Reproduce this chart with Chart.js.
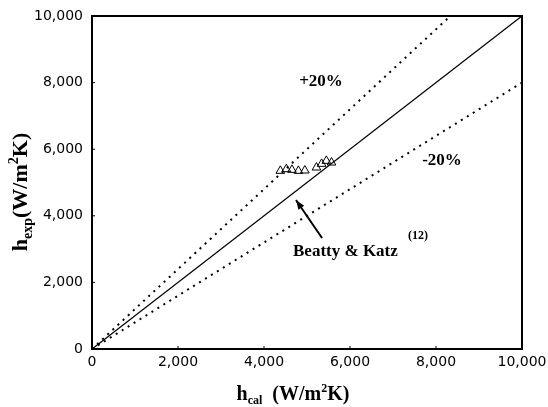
<!DOCTYPE html>
<html>
<head>
<meta charset="utf-8">
<script src="https://cdn.jsdelivr.net/npm/chart.js@4/dist/chart.umd.min.js"></script>
<style>
  html, body { margin: 0; padding: 0; background: #fff; }
  #wrap { width: 548px; height: 407px; }
</style>
</head>
<body>
<div id="wrap"><canvas id="chart"></canvas></div>
<script>
// Measured points: calculated vs experimental heat transfer coefficient (W/m2K)
const hCal = [4380, 4520, 4650, 4800, 4950, 5220, 5340, 5450, 5570];
const hExp = [5350, 5400, 5380, 5350, 5360, 5450, 5560, 5650, 5600];

// Reference lines (end points)
const perfectX = [0, 10000];
const perfectY = [0, 10000];
const plusX = [0, 8333];
const plusY = [0, 10000];
const minusX = [0, 10000];
const minusY = [0, 8000];

// Axis ticks
const tickValues = [0, 2000, 4000, 6000, 8000, 10000];

const toPoints = (xs, ys) => xs.map((x, i) => ({ x: x, y: ys[i] }));

// Draw text made of pieces: [text, size, dy]
function drawRich(ctx, parts, x, y, family) {
  let cx = x;
  parts.forEach((p) => {
    ctx.font = "bold " + p[1] + "px " + family;
    ctx.fillText(p[0], cx, y + p[2]);
    cx += ctx.measureText(p[0]).width;
  });
}
function richWidth(ctx, parts, family) {
  let w = 0;
  parts.forEach((p) => {
    ctx.font = "bold " + p[1] + "px " + family;
    w += ctx.measureText(p[0]).width;
  });
  return w;
}

const serif = "'Liberation Serif', 'Times New Roman', serif";

const decorPlugin = {
  id: "decor",
  afterDraw(chart) {
    const ctx = chart.ctx;
    const a = chart.chartArea;
    const xs = chart.scales.x;
    const ys = chart.scales.y;
    ctx.save();

    // frame
    ctx.strokeStyle = "#000";
    ctx.lineWidth = 2;
    ctx.strokeRect(a.left, a.top, a.right - a.left, a.bottom - a.top);

    // inner tick marks
    ctx.lineWidth = 1;
    tickValues.forEach((v) => {
      const px = xs.getPixelForValue(v);
      ctx.beginPath();
      ctx.moveTo(px, a.bottom);
      ctx.lineTo(px, a.bottom - 3);
      ctx.stroke();
      const py = ys.getPixelForValue(v);
      ctx.beginPath();
      ctx.moveTo(a.left, py);
      ctx.lineTo(a.left + 3, py);
      ctx.stroke();
    });

    ctx.fillStyle = "#000";
    ctx.textBaseline = "alphabetic";
    ctx.textAlign = "left";

    // x axis title
    const xParts = [["h", 20, 0], ["cal", 12, 4], ["  (W/m", 20, 0], ["2", 12, -8], ["K)", 20, 0]];
    const xw = richWidth(ctx, xParts, serif);
    drawRich(ctx, xParts, 293 - xw / 2, 400, serif);

    // y axis title (rotated)
    const yParts = [["h", 22, 0], ["exp", 14, 5], ["(W/m", 22, 0], ["2", 14, -9], ["K)", 22, 0]];
    const yw = richWidth(ctx, yParts, serif);
    ctx.save();
    ctx.translate(27, 192);
    ctx.rotate(-Math.PI / 2);
    drawRich(ctx, yParts, -yw / 2, 0, serif);
    ctx.restore();

    // line labels
    ctx.textAlign = "center";
    ctx.textBaseline = "middle";
    ctx.font = "bold 17px " + serif;
    ctx.fillText("+20%", xs.getPixelForValue(5325), ys.getPixelForValue(8020));
    ctx.fillText("-20%", xs.getPixelForValue(8140), ys.getPixelForValue(5645));

    ctx.textAlign = "left";
    ctx.textBaseline = "alphabetic";
    ctx.fillText("Beatty & Katz", xs.getPixelForValue(4675), ys.getPixelForValue(2800));
    ctx.font = "bold 12px " + serif;
    ctx.fillText("(12)", xs.getPixelForValue(7350), ys.getPixelForValue(3300));

    // arrow
    const tx = xs.getPixelForValue(4744), ty = ys.getPixelForValue(4474);
    const sx = xs.getPixelForValue(5349), sy = ys.getPixelForValue(3333);
    ctx.lineWidth = 2;
    ctx.beginPath();
    ctx.moveTo(sx, sy);
    ctx.lineTo(tx, ty);
    ctx.stroke();
    const ang = Math.atan2(ty - sy, tx - sx);
    ctx.beginPath();
    ctx.moveTo(tx, ty);
    ctx.lineTo(tx - 10 * Math.cos(ang - 0.35), ty - 10 * Math.sin(ang - 0.35));
    ctx.lineTo(tx - 10 * Math.cos(ang + 0.35), ty - 10 * Math.sin(ang + 0.35));
    ctx.closePath();
    ctx.fill();

    ctx.restore();
  },
};

const tickFont = { family: "'DejaVu Sans', sans-serif", size: 14 };

new Chart(document.getElementById("chart"), {
  type: "scatter",
  data: {
    datasets: [
      {
        label: "Data",
        data: toPoints(hCal, hExp),
        pointStyle: "triangle",
        pointRadius: 5,
        pointBackgroundColor: "rgba(255,255,255,0)",
        pointBorderColor: "#000",
        pointBorderWidth: 1,
        showLine: false,
      },
      {
        label: "y = x",
        data: toPoints(perfectX, perfectY),
        showLine: true,
        borderColor: "#000",
        borderWidth: 1.3,
        pointRadius: 0,
      },
      {
        label: "+20%",
        data: toPoints(plusX, plusY),
        showLine: true,
        borderColor: "#000",
        borderWidth: 2,
        borderDash: [2, 5],
        pointRadius: 0,
      },
      {
        label: "-20%",
        data: toPoints(minusX, minusY),
        showLine: true,
        borderColor: "#000",
        borderWidth: 2,
        borderDash: [2, 5],
        pointRadius: 0,
      },
    ],
  },
  options: {
    responsive: true,
    maintainAspectRatio: false,
    animation: false,
    layout: { padding: { top: 16, right: 0, left: 0, bottom: 0 } },
    plugins: {
      legend: { display: false },
      tooltip: { enabled: false },
    },
    scales: {
      x: {
        type: "linear",
        min: 0,
        max: 10000,
        afterBuildTicks: (s) => { s.ticks = tickValues.map((v) => ({ value: v })); },
        afterFit: (s) => { s.height = 58; s.paddingRight = 26; s.paddingLeft = 0; },
        grid: { display: false, drawTicks: false },
        border: { display: false },
        ticks: { color: "#000", font: tickFont, padding: 5, maxRotation: 0 },
      },
      y: {
        type: "linear",
        min: 0,
        max: 10000,
        afterBuildTicks: (s) => { s.ticks = tickValues.map((v) => ({ value: v })); },
        afterFit: (s) => { s.width = 92; s.paddingTop = 0; s.paddingBottom = 0; },
        grid: { display: false, drawTicks: false },
        border: { display: false },
        ticks: { color: "#000", font: tickFont, padding: 9 },
      },
    },
  },
  plugins: [decorPlugin],
});
</script>
</body>
</html>
